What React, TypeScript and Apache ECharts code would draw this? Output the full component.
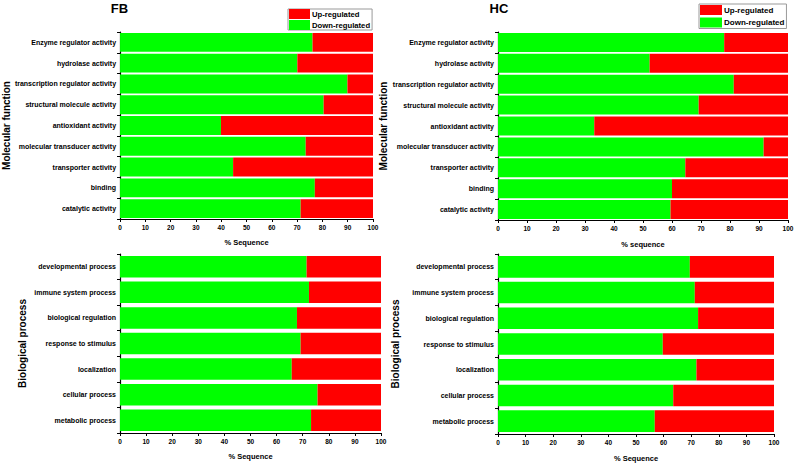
import React, { useEffect, useRef } from "react";
import * as echarts from "echarts";

const mfCategories = [
  "Enzyme regulator activity",
  "hydrolase activity",
  "transcription regulator activity",
  "structural molecule activity",
  "antioxidant activity",
  "molecular transducer activity",
  "transporter activity",
  "binding",
  "catalytic activity",
];
const bpCategories = [
  "developmental process",
  "immune system process",
  "biological regulation",
  "response to stimulus",
  "localization",
  "cellular process",
  "metabolic process",
];

const fbMfDown = [76.1, 70.1, 89.9, 80.5, 39.9, 73.4, 44.7, 77.0, 71.4];
const fbMfUp = [23.9, 29.9, 10.1, 19.5, 60.1, 26.6, 55.3, 23.0, 28.6];
const hcMfDown = [78.0, 52.3, 81.3, 69.2, 33.2, 91.6, 64.6, 60.0, 59.5];
const hcMfUp = [22.0, 47.7, 18.7, 30.8, 66.8, 8.4, 35.4, 40.0, 40.5];
const fbBpDown = [71.5, 72.4, 67.8, 69.2, 65.8, 75.7, 73.2];
const fbBpUp = [28.5, 27.6, 32.2, 30.8, 34.2, 24.3, 26.8];
const hcBpDown = [69.5, 71.3, 72.5, 59.7, 71.9, 63.5, 56.8];
const hcBpUp = [30.5, 28.7, 27.5, 40.3, 28.1, 36.5, 43.2];

const panelTitles = ["FB", "HC"];
const legendNames = ["Up-regulated", "Down-regulated"];
const xNames = ["% Sequence", "% sequence", "% Sequence", "% Sequence"];
const yNames = ["Molecular function", "Molecular function", "Biological process", "Biological process"];

const FONT = "'Liberation Sans', Arial, sans-serif";
const GREEN = "#00ff00";
const RED = "#ff0000";

export default function App() {
  const ref = useRef<HTMLDivElement>(null);
  useEffect(() => {
    if (!ref.current) return;
    const chart = echarts.init(ref.current, undefined, { renderer: "svg" });

    const grids = [
      { left: 120, top: 32, width: 253, height: 187 },
      { left: 498, top: 32, width: 290, height: 188 },
      { left: 120, top: 254, width: 261, height: 179 },
      { left: 498, top: 254, width: 276, height: 180 },
    ];
    const cats = [mfCategories, mfCategories, bpCategories, bpCategories];
    const downs = [fbMfDown, hcMfDown, fbBpDown, hcBpDown];
    const ups = [fbMfUp, hcMfUp, fbBpUp, hcBpUp];
    const yNameGaps = [108, 109.5, 92.5, 97.5];
    const xNameGaps = [19.5, 20.5, 19.5, 20.5];
    const gaps = ["9%", "9%", "16%", "16%"];

    const xAxis = grids.map((_, i) => ({
      type: "value",
      gridIndex: i,
      min: 0,
      max: 100,
      interval: 10,
      name: xNames[i],
      nameLocation: "middle",
      nameGap: xNameGaps[i],
      nameTextStyle: { fontFamily: FONT, fontWeight: "bold", fontSize: 7.5, color: "#000" },
      axisLine: { show: true, lineStyle: { color: "#000", width: 1 } },
      axisTick: { show: true, length: 3, lineStyle: { color: "#000" } },
      axisLabel: { fontFamily: FONT, fontWeight: "bold", fontSize: 6.5, color: "#000", margin: 5 },
      splitLine: { show: false },
    }));

    const yAxis = grids.map((_, i) => ({
      type: "category",
      gridIndex: i,
      data: cats[i],
      inverse: true,
      name: yNames[i],
      nameLocation: "middle",
      nameRotate: 90,
      nameGap: yNameGaps[i],
      nameTextStyle: { fontFamily: FONT, fontWeight: "bold", fontSize: 10, color: "#000" },
      axisLine: { show: true, lineStyle: { color: "#000", width: 1.2 } },
      axisTick: { show: true, length: 3, lineStyle: { color: "#000" } },
      axisLabel: { fontFamily: FONT, fontWeight: "bold", fontSize: 7, color: "#000", margin: 4 },
      splitLine: { show: false },
    }));

    const series: any[] = [];
    grids.forEach((_, i) => {
      series.push({
        type: "bar",
        name: "Down-regulated",
        xAxisIndex: i,
        yAxisIndex: i,
        stack: "s" + i,
        data: downs[i],
        barCategoryGap: gaps[i],
        itemStyle: { color: GREEN },
        emphasis: { disabled: true },
      });
      series.push({
        type: "bar",
        name: "Up-regulated",
        xAxisIndex: i,
        yAxisIndex: i,
        stack: "s" + i,
        data: ups[i],
        barCategoryGap: gaps[i],
        itemStyle: { color: RED },
        emphasis: { disabled: true },
      });
    });

    const legendBase = {
      orient: "vertical",
      data: legendNames,
      selectedMode: false,
      icon: "rect",
      borderColor: "#999",
      borderWidth: 1,
      borderRadius: 0,
      textStyle: { fontFamily: FONT, fontWeight: "bold", color: "#000" },
    };

    chart.setOption({
      animation: false,
      backgroundColor: "#fff",
      textStyle: { fontFamily: FONT },
      grid: grids,
      xAxis,
      yAxis,
      series,
      legend: [
        {
          ...legendBase,
          left: 288,
          top: 9,
          padding: [0, 2, 0, 1],
          itemGap: 1,
          itemWidth: 21,
          itemHeight: 10,
          textStyle: { ...legendBase.textStyle, fontSize: 7.7, padding: [0, 0, 0, -3] },
        },
        {
          ...legendBase,
          left: 699,
          top: 4,
          padding: [1, 2, 1, 1],
          itemGap: 2.5,
          itemWidth: 22,
          itemHeight: 10,
          textStyle: { ...legendBase.textStyle, fontSize: 8, padding: [0, 0, 0, -3] },
        },
      ],
      graphic: [
        {
          type: "text",
          x: 119.5,
          y: 8.5,
          style: {
            text: panelTitles[0],
            font: `bold 13px ${FONT}`,
            fill: "#000",
            textAlign: "center",
            textVerticalAlign: "middle",
          },
        },
        {
          type: "text",
          x: 499,
          y: 8.5,
          style: {
            text: panelTitles[1],
            font: `bold 13px ${FONT}`,
            fill: "#000",
            textAlign: "center",
            textVerticalAlign: "middle",
          },
        },
      ],
    });
    return () => chart.dispose();
  }, []);
  return (
    <div
      ref={ref}
      style={{ position: "absolute", left: 0, top: 0, width: 797, height: 468, background: "#fff" }}
    />
  );
}
